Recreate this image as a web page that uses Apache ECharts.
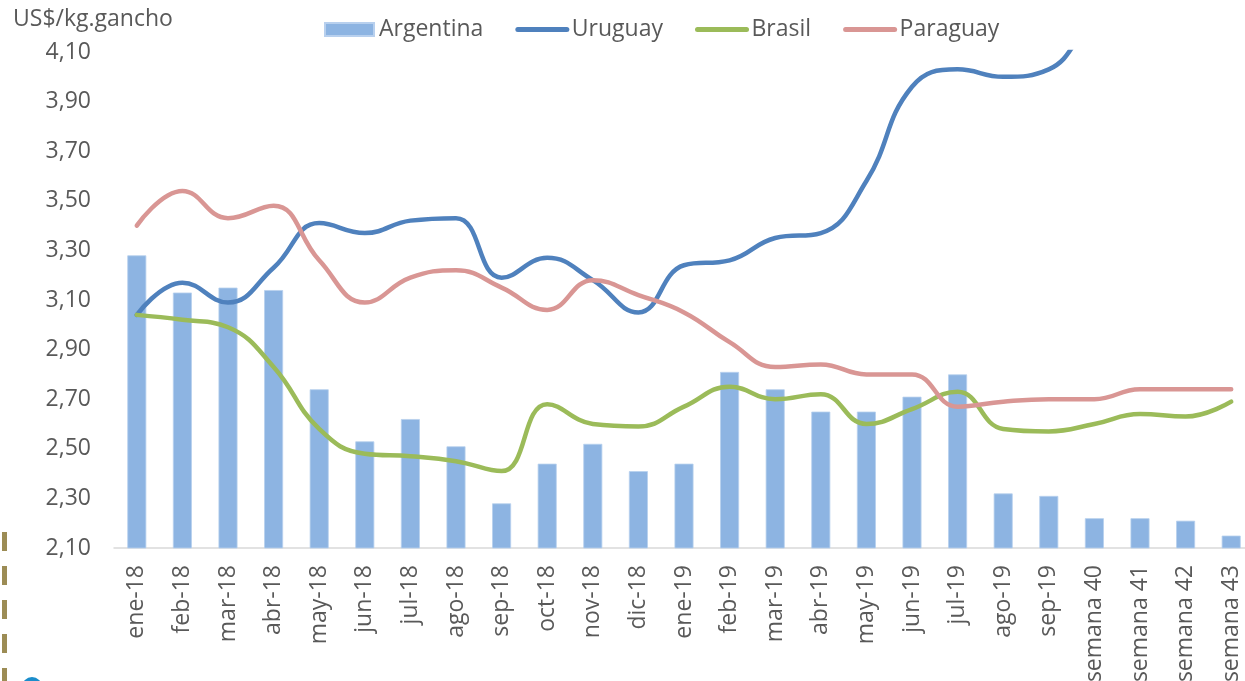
<!DOCTYPE html>
<html>
<head>
<meta charset="utf-8">
<script src="https://cdn.jsdelivr.net/npm/echarts@6/dist/echarts.min.js"></script>
<style>
  html, body { margin: 0; padding: 0; background: #fff; }
  #chart { width: 1245px; height: 681px; }
</style>
</head>
<body>
<div id="chart"></div>
<script>
var categories = ['ene-18', 'feb-18', 'mar-18', 'abr-18', 'may-18', 'jun-18', 'jul-18', 'ago-18', 'sep-18', 'oct-18', 'nov-18', 'dic-18',
  'ene-19', 'feb-19', 'mar-19', 'abr-19', 'may-19', 'jun-19', 'jul-19', 'ago-19', 'sep-19',
  'semana 40', 'semana 41', 'semana 42', 'semana 43'];

var argentina = [3.28, 3.13, 3.15, 3.14, 2.74, 2.53, 2.62, 2.51, 2.28, 2.44, 2.52, 2.41,
  2.44, 2.81, 2.74, 2.65, 2.65, 2.71, 2.80, 2.32, 2.31, 2.22, 2.22, 2.21, 2.15];
var uruguay = [3.04, 3.17, 3.09, 3.23, 3.41, 3.37, 3.42, 3.43, 3.19, 3.27, 3.18, 3.05,
  3.24, 3.26, 3.35, 3.37, 3.58, 3.96, 4.03, 4.00, 4.03, 4.22, 4.28, 4.30, 4.32];
var brasil = [3.04, 3.02, 2.99, 2.83, 2.58, 2.48, 2.47, 2.45, 2.41, 2.68, 2.60, 2.59,
  2.67, 2.75, 2.70, 2.72, 2.60, 2.66, 2.73, 2.58, 2.57, 2.60, 2.64, 2.63, 2.69];
var paraguay = [3.40, 3.54, 3.43, 3.48, 3.26, 3.09, 3.19, 3.22, 3.15, 3.06, 3.18, 3.12,
  3.05, 2.93, 2.83, 2.84, 2.80, 2.80, 2.67, 2.69, 2.70, 2.70, 2.74, 2.74, 2.74];

var yMin = 2.10, yMax = 4.10, yStep = 0.20;

(function() {
  var grey = '#595959';
  var font = '"Open Sans", sans-serif';
  var colors = { Argentina: '#8DB4E2', Uruguay: '#4F81BD', Brasil: '#9BBB59', Paraguay: '#D99694' };
  var chart = echarts.init(document.getElementById('chart'), null, { renderer: 'canvas' });

  function lineSeries(name, data) {
    return {
      name: name,
      type: 'line',
      data: data,
      smooth: 0.45,
      symbol: 'none',
      clip: true,
      lineStyle: { width: 4.5, color: colors[name], cap: 'round' },
      itemStyle: { color: colors[name] }
    };
  }

  function legendLine(name) {
    return {
      name: name,
      itemStyle: { color: 'rgba(0,0,0,0)', borderWidth: 0 },
      lineStyle: { width: 5, color: colors[name], cap: 'round' }
    };
  }

  chart.setOption({
    animation: false,
    title: {
      text: 'US$/kg.gancho',
      left: 8,
      top: 3,
      textStyle: { fontSize: 23, fontWeight: 'normal', color: grey, fontFamily: font }
    },
    legend: {
      left: 324,
      top: 18,
      padding: 0,
      itemGap: 32,
      itemWidth: 49,
      itemHeight: 13,
      textStyle: { fontSize: 23, color: grey, fontFamily: font },
      data: [
        { name: 'Argentina', icon: 'rect' },
        legendLine('Uruguay'),
        legendLine('Brasil'),
        legendLine('Paraguay')
      ]
    },
    grid: { left: 114, right: -9, top: 52, bottom: 133, outerBoundsMode: 'none' },
    xAxis: {
      type: 'category',
      data: categories,
      axisLine: { lineStyle: { color: '#D9D9D9', width: 1.5 } },
      axisTick: { show: false },
      axisLabel: { rotate: 90, interval: 0, fontSize: 23, color: grey, fontFamily: font, margin: 17 }
    },
    yAxis: {
      type: 'value',
      min: yMin,
      max: yMax,
      interval: yStep,
      splitLine: { show: false },
      axisLine: { show: false },
      axisTick: { show: false },
      axisLabel: {
        fontSize: 23, color: grey, fontFamily: font, margin: 23,
        formatter: function(v) { return v.toFixed(2).replace('.', ','); }
      }
    },
    graphic: [
      {
        type: 'line',
        shape: { x1: 4.5, y1: 532, x2: 4.5, y2: 681 },
        style: { stroke: '#9C8C55', lineWidth: 5, lineDash: [19, 15] }
      },
      {
        type: 'circle',
        shape: { cx: 32, cy: 687, r: 10 },
        style: { fill: '#1B8DCB' }
      }
    ],
    series: [
      {
        name: 'Argentina',
        type: 'bar',
        data: argentina,
        barWidth: 19,
        itemStyle: { color: colors.Argentina, borderColor: '#B8D0EE', borderWidth: 0.8 }
      },
      lineSeries('Uruguay', uruguay),
      lineSeries('Brasil', brasil),
      lineSeries('Paraguay', paraguay)
    ]
  });
  window.addEventListener('resize', function() { chart.resize(); });
})();
</script>
</body>
</html>
